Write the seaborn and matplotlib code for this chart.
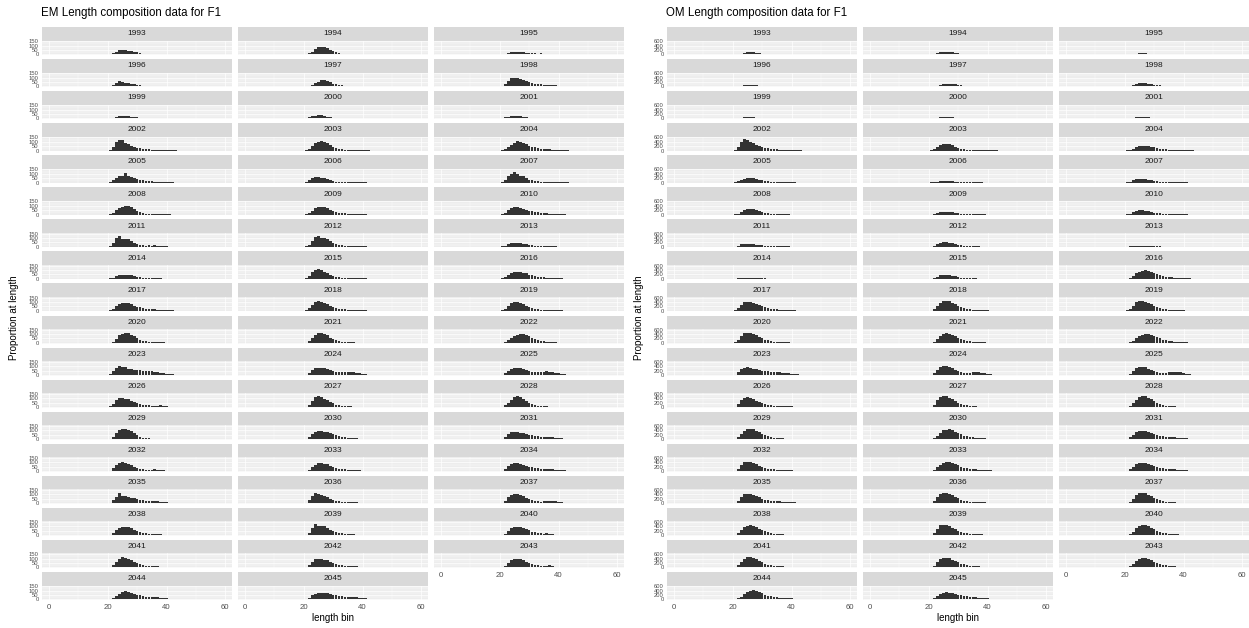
import matplotlib
matplotlib.use("Agg")
import matplotlib.pyplot as plt
import pandas as pd
import seaborn as sns

# ---- data -------------------------------------------------------------
YEARS = list(range(1993, 2046))
LENGTH_BINS = list(range(20, 45))

# Estimation-model (EM) length composition, one row per year, bins 20..44
EM_COUNTS = [
    [0, 4, 12, 30, 45, 50, 48, 42, 38, 30, 22, 14, 8, 5, 3, 6, 2, 1, 4, 1, 0, 2, 1, 0, 0],
    [0, 2, 10, 28, 60, 78, 82, 80, 70, 55, 38, 25, 15, 9, 6, 5, 4, 3, 2, 2, 1, 1, 0, 0, 0],
    [0, 2, 8, 18, 24, 27, 26, 25, 22, 20, 18, 15, 10, 8, 12, 6, 4, 3, 2, 2, 1, 1, 0, 0, 0],
    [0, 5, 18, 40, 58, 50, 42, 35, 30, 24, 18, 12, 8, 6, 5, 4, 6, 3, 2, 2, 1, 1, 0, 0, 0],
    [0, 2, 8, 20, 38, 55, 70, 78, 60, 45, 32, 25, 18, 12, 9, 7, 5, 4, 3, 3, 2, 1, 1, 0, 0],
    [0, 6, 25, 60, 90, 97, 92, 80, 70, 60, 50, 40, 32, 28, 24, 20, 18, 15, 14, 12, 10, 10, 8, 4, 0],
    [0, 2, 8, 18, 26, 31, 30, 28, 22, 16, 12, 8, 6, 5, 4, 3, 3, 2, 2, 1, 1, 0, 0, 0, 0],
    [0, 4, 14, 26, 30, 36, 39, 30, 22, 14, 8, 5, 4, 3, 2, 2, 1, 1, 0, 0, 0, 0, 0, 0, 0],
    [0, 3, 12, 22, 28, 30, 31, 26, 20, 15, 10, 8, 6, 5, 4, 3, 3, 2, 2, 1, 1, 1, 0, 0, 0],
    [0, 8, 40, 95, 125, 118, 90, 70, 55, 42, 32, 25, 18, 14, 12, 10, 9, 8, 8, 7, 6, 5, 4, 3, 0],
    [0, 4, 20, 55, 85, 100, 105, 95, 80, 60, 42, 30, 20, 14, 10, 8, 7, 6, 5, 4, 3, 2, 1, 0, 0],
    [0, 3, 12, 35, 65, 90, 105, 98, 84, 70, 55, 42, 35, 28, 22, 18, 15, 12, 10, 8, 6, 4, 3, 1, 0],
    [0, 5, 25, 55, 70, 75, 109, 72, 60, 48, 42, 35, 28, 22, 18, 15, 12, 10, 8, 6, 4, 2, 1, 0, 0],
    [0, 5, 30, 55, 62, 58, 52, 55, 40, 25, 15, 10, 8, 12, 6, 4, 3, 8, 4, 2, 2, 1, 0, 0, 0],
    [0, 6, 30, 70, 100, 117, 95, 80, 70, 50, 35, 25, 18, 14, 12, 10, 8, 8, 7, 6, 5, 4, 3, 1, 0],
    [0, 4, 20, 50, 78, 92, 101, 95, 82, 62, 42, 28, 18, 12, 9, 7, 6, 5, 4, 3, 2, 2, 1, 0, 0],
    [0, 3, 16, 45, 72, 86, 85, 82, 72, 58, 44, 32, 24, 18, 14, 10, 8, 6, 5, 4, 3, 2, 1, 0, 0],
    [0, 3, 18, 52, 78, 86, 84, 78, 68, 55, 45, 38, 32, 26, 22, 18, 14, 12, 10, 8, 6, 5, 3, 1, 0],
    [0, 8, 45, 95, 117, 90, 88, 85, 60, 45, 32, 22, 16, 12, 14, 10, 16, 8, 6, 4, 3, 2, 1, 0, 0],
    [0, 5, 25, 65, 110, 125, 100, 95, 85, 60, 40, 28, 20, 15, 12, 10, 8, 7, 6, 5, 4, 3, 2, 0, 0],
    [0, 3, 12, 28, 40, 47, 45, 42, 35, 28, 22, 16, 12, 9, 7, 6, 5, 8, 4, 3, 2, 1, 0, 0, 0],
    [0, 3, 14, 30, 40, 47, 44, 40, 46, 32, 22, 15, 10, 8, 6, 14, 5, 4, 3, 2, 1, 1, 0, 0, 0],
    [0, 6, 30, 75, 100, 109, 95, 80, 65, 48, 35, 25, 18, 14, 12, 10, 8, 7, 6, 5, 4, 3, 1, 0, 0],
    [0, 3, 15, 40, 62, 75, 78, 74, 70, 60, 48, 38, 30, 24, 20, 16, 14, 12, 10, 8, 6, 4, 2, 0, 0],
    [0, 5, 22, 50, 80, 94, 90, 85, 72, 60, 48, 38, 30, 24, 20, 18, 16, 14, 12, 10, 8, 6, 4, 2, 0],
    [0, 5, 30, 70, 100, 109, 95, 85, 80, 60, 45, 34, 26, 20, 18, 14, 12, 10, 9, 8, 6, 4, 2, 1, 0],
    [0, 4, 20, 55, 88, 101, 98, 88, 72, 55, 40, 30, 22, 18, 14, 12, 10, 8, 7, 6, 5, 4, 3, 1, 0],
    [0, 3, 15, 45, 85, 105, 113, 108, 95, 75, 55, 38, 26, 18, 14, 12, 10, 8, 6, 5, 4, 3, 2, 0, 0],
    [0, 4, 22, 60, 95, 112, 117, 105, 85, 60, 40, 28, 18, 12, 9, 7, 6, 5, 4, 3, 2, 1, 1, 0, 0],
    [0, 2, 10, 28, 52, 75, 90, 100, 105, 92, 75, 56, 40, 30, 22, 16, 12, 10, 8, 6, 4, 3, 2, 0, 0],
    [0, 8, 40, 80, 97, 90, 85, 70, 62, 58, 55, 52, 50, 48, 45, 42, 38, 32, 26, 20, 14, 10, 6, 3, 0],
    [0, 4, 22, 55, 76, 82, 80, 76, 68, 55, 45, 38, 34, 32, 32, 34, 35, 30, 24, 18, 12, 8, 4, 2, 0],
    [0, 4, 20, 50, 72, 80, 82, 76, 65, 52, 42, 35, 32, 30, 34, 38, 40, 36, 30, 26, 20, 14, 8, 3, 0],
    [0, 6, 32, 75, 100, 105, 96, 86, 72, 55, 40, 30, 24, 20, 18, 16, 14, 16, 18, 12, 8, 5, 3, 0, 0],
    [0, 5, 28, 72, 110, 121, 110, 95, 80, 60, 40, 26, 18, 12, 9, 7, 6, 5, 4, 3, 2, 1, 0, 0, 0],
    [0, 3, 18, 50, 85, 110, 121, 112, 95, 72, 50, 32, 20, 14, 10, 8, 6, 5, 4, 3, 2, 1, 0, 0, 0],
    [0, 5, 28, 68, 100, 112, 113, 105, 88, 65, 42, 26, 16, 10, 7, 5, 4, 3, 2, 2, 1, 1, 0, 0, 0],
    [0, 4, 22, 55, 80, 90, 88, 84, 78, 68, 55, 42, 32, 25, 20, 16, 12, 10, 8, 6, 4, 3, 1, 0, 0],
    [0, 4, 24, 58, 75, 78, 76, 72, 66, 58, 50, 42, 36, 32, 28, 25, 22, 20, 18, 16, 12, 8, 4, 1, 0],
    [0, 6, 32, 75, 98, 101, 94, 82, 68, 52, 38, 28, 22, 18, 16, 18, 20, 16, 12, 8, 5, 3, 1, 0, 0],
    [0, 3, 18, 48, 75, 88, 90, 86, 76, 62, 46, 34, 26, 22, 20, 18, 16, 14, 12, 9, 6, 4, 2, 0, 0],
    [0, 4, 20, 55, 85, 94, 90, 84, 74, 62, 50, 42, 36, 32, 28, 26, 24, 22, 20, 18, 16, 14, 12, 4, 0],
    [0, 6, 35, 65, 113, 80, 78, 72, 64, 55, 46, 38, 32, 28, 26, 30, 28, 24, 18, 12, 8, 6, 4, 2, 0],
    [0, 6, 35, 85, 121, 100, 92, 80, 68, 50, 38, 28, 22, 18, 16, 14, 12, 10, 8, 6, 5, 4, 3, 1, 0],
    [0, 5, 28, 68, 95, 105, 100, 95, 80, 62, 45, 32, 24, 20, 18, 20, 22, 22, 24, 20, 14, 8, 4, 0, 0],
    [0, 3, 20, 55, 85, 97, 95, 90, 80, 65, 50, 38, 28, 22, 18, 16, 18, 14, 10, 7, 5, 3, 1, 0, 0],
    [0, 6, 30, 80, 129, 110, 100, 105, 85, 65, 48, 35, 26, 20, 16, 14, 12, 10, 8, 6, 4, 2, 1, 0, 0],
    [0, 3, 18, 50, 82, 97, 94, 90, 85, 70, 55, 42, 32, 24, 20, 18, 22, 16, 12, 8, 5, 3, 1, 0, 0],
    [0, 5, 25, 65, 98, 113, 105, 92, 78, 62, 46, 34, 26, 20, 16, 14, 16, 12, 8, 5, 3, 2, 1, 0, 0],
    [0, 4, 25, 62, 90, 97, 94, 88, 78, 64, 50, 38, 28, 22, 18, 15, 13, 11, 20, 9, 6, 4, 2, 0, 0],
    [0, 3, 18, 52, 82, 94, 92, 90, 80, 66, 52, 40, 30, 24, 20, 18, 16, 22, 12, 8, 5, 3, 1, 0, 0],
    [0, 3, 14, 40, 66, 82, 90, 86, 78, 66, 55, 45, 38, 32, 28, 26, 24, 22, 20, 16, 12, 8, 4, 1, 0],
    [0, 4, 18, 44, 64, 74, 78, 76, 70, 62, 54, 46, 40, 36, 32, 30, 28, 26, 24, 20, 16, 10, 5, 2, 0],
]

# Operating-model (OM) length composition, one row per year, bins 20..44
OM_COUNTS = [
    [0, 2, 10, 35, 70, 92, 97, 85, 65, 45, 30, 20, 14, 10, 8, 6, 5, 4, 3, 2, 1, 1, 0, 0, 0],
    [0, 3, 15, 45, 85, 108, 113, 105, 88, 68, 50, 36, 26, 20, 16, 12, 10, 8, 6, 5, 4, 3, 2, 1, 0],
    [0, 1, 5, 16, 32, 44, 48, 45, 38, 30, 22, 16, 12, 9, 7, 5, 4, 3, 2, 2, 1, 1, 0, 0, 0],
    [0, 2, 10, 30, 52, 63, 65, 58, 46, 34, 24, 17, 12, 9, 7, 5, 4, 3, 2, 2, 1, 1, 0, 0, 0],
    [0, 2, 10, 32, 70, 108, 128, 130, 115, 90, 65, 45, 30, 20, 14, 10, 8, 6, 5, 4, 3, 2, 1, 0, 0],
    [0, 4, 22, 70, 125, 155, 160, 150, 130, 105, 82, 64, 50, 40, 33, 28, 24, 20, 17, 14, 11, 8, 5, 2, 0],
    [0, 2, 12, 34, 55, 65, 62, 54, 42, 31, 22, 15, 11, 8, 6, 5, 4, 3, 2, 1, 1, 0, 0, 0, 0],
    [0, 1, 8, 26, 48, 62, 65, 60, 48, 35, 24, 16, 11, 8, 6, 4, 3, 2, 2, 1, 1, 0, 0, 0, 0],
    [0, 2, 10, 28, 50, 62, 65, 61, 52, 40, 30, 22, 16, 12, 9, 7, 5, 4, 3, 2, 2, 1, 1, 0, 0],
    [0, 30, 170, 400, 517, 480, 400, 320, 250, 195, 150, 118, 92, 74, 60, 50, 42, 36, 30, 25, 20, 15, 10, 5, 0],
    [0, 10, 50, 140, 240, 295, 307, 280, 230, 175, 125, 88, 62, 45, 34, 27, 22, 18, 15, 12, 9, 6, 3, 1, 0],
    [0, 5, 30, 85, 150, 200, 222, 226, 210, 180, 145, 112, 85, 64, 50, 40, 32, 26, 21, 17, 13, 9, 5, 2, 0],
    [0, 10, 55, 130, 185, 208, 210, 195, 168, 135, 104, 78, 58, 44, 34, 27, 22, 18, 15, 12, 9, 6, 3, 1, 0],
    [0, 4, 20, 48, 70, 80, 78, 70, 58, 45, 34, 25, 18, 13, 10, 8, 6, 5, 4, 3, 2, 1, 1, 0, 0],
    [0, 6, 35, 95, 150, 175, 178, 165, 140, 110, 82, 60, 45, 36, 32, 30, 28, 25, 20, 15, 10, 6, 3, 1, 0],
    [0, 8, 45, 125, 210, 252, 260, 240, 200, 155, 112, 80, 56, 40, 30, 23, 18, 14, 11, 8, 6, 4, 2, 1, 0],
    [0, 4, 22, 62, 105, 126, 130, 122, 105, 85, 65, 49, 37, 28, 22, 18, 15, 12, 10, 8, 6, 4, 2, 1, 0],
    [0, 8, 45, 110, 165, 190, 194, 180, 155, 125, 96, 72, 54, 42, 34, 28, 24, 21, 18, 15, 12, 8, 4, 1, 0],
    [0, 8, 50, 110, 140, 145, 135, 118, 98, 78, 60, 46, 36, 29, 24, 20, 17, 14, 12, 10, 8, 5, 3, 1, 0],
    [0, 6, 40, 105, 165, 192, 194, 178, 150, 115, 84, 60, 42, 30, 22, 17, 13, 10, 8, 6, 4, 3, 1, 0, 0],
    [0, 2, 10, 28, 42, 50, 50, 46, 38, 30, 22, 16, 12, 9, 7, 5, 4, 3, 3, 2, 1, 1, 0, 0, 0],
    [0, 3, 14, 32, 46, 50, 47, 41, 33, 25, 18, 13, 9, 7, 5, 4, 3, 2, 2, 1, 1, 0, 0, 0, 0],
    [0, 6, 38, 100, 155, 176, 178, 162, 135, 104, 76, 54, 38, 28, 21, 16, 13, 10, 8, 6, 4, 3, 1, 0, 0],
    [0, 8, 45, 130, 240, 330, 375, 388, 365, 315, 255, 200, 155, 120, 95, 78, 65, 54, 45, 37, 29, 21, 13, 5, 0],
    [0, 20, 110, 270, 390, 420, 405, 370, 315, 255, 200, 155, 120, 95, 76, 62, 52, 44, 37, 31, 25, 18, 11, 4, 0],
    [0, 12, 75, 210, 350, 430, 453, 430, 375, 300, 225, 165, 120, 88, 66, 51, 41, 34, 28, 23, 18, 13, 8, 3, 0],
    [0, 15, 90, 240, 380, 445, 453, 420, 360, 290, 220, 165, 122, 92, 70, 55, 44, 36, 30, 24, 18, 13, 8, 3, 0],
    [0, 25, 130, 310, 440, 470, 455, 410, 345, 272, 205, 150, 110, 80, 60, 46, 36, 29, 23, 18, 13, 9, 5, 2, 0],
    [0, 10, 60, 180, 320, 410, 436, 420, 370, 300, 228, 168, 122, 88, 65, 49, 38, 30, 24, 19, 14, 10, 6, 2, 0],
    [0, 5, 30, 100, 200, 300, 370, 400, 404, 375, 320, 258, 200, 152, 115, 88, 68, 53, 42, 33, 25, 18, 11, 4, 0],
    [0, 20, 120, 260, 330, 340, 320, 290, 255, 222, 195, 175, 160, 150, 140, 130, 118, 104, 88, 72, 55, 38, 22, 8, 0],
    [0, 12, 80, 220, 340, 395, 404, 370, 310, 240, 180, 135, 110, 100, 102, 112, 122, 122, 110, 88, 62, 38, 18, 6, 0],
    [0, 10, 65, 185, 300, 360, 372, 345, 290, 225, 168, 128, 105, 98, 104, 120, 140, 150, 144, 122, 90, 56, 26, 8, 0],
    [0, 20, 120, 300, 420, 436, 410, 360, 295, 228, 170, 125, 92, 70, 56, 48, 44, 42, 40, 36, 28, 18, 10, 3, 0],
    [0, 18, 110, 300, 450, 500, 485, 430, 355, 275, 202, 145, 102, 72, 52, 38, 29, 22, 17, 13, 9, 6, 3, 1, 0],
    [0, 8, 55, 170, 320, 440, 500, 490, 430, 345, 260, 188, 132, 92, 65, 47, 35, 27, 21, 16, 12, 8, 4, 1, 0],
    [0, 12, 80, 230, 380, 455, 470, 445, 385, 310, 235, 170, 122, 87, 63, 47, 36, 28, 22, 17, 12, 8, 4, 1, 0],
    [0, 8, 50, 160, 290, 390, 430, 436, 400, 340, 270, 208, 158, 120, 92, 72, 57, 46, 37, 29, 22, 15, 8, 3, 0],
    [0, 12, 75, 200, 310, 362, 372, 355, 320, 275, 230, 190, 158, 134, 116, 102, 90, 80, 70, 60, 48, 35, 20, 6, 0],
    [0, 20, 115, 280, 395, 420, 400, 360, 305, 245, 190, 145, 112, 90, 76, 68, 64, 60, 54, 46, 36, 24, 12, 4, 0],
    [0, 8, 55, 170, 300, 390, 420, 415, 380, 325, 262, 205, 160, 126, 102, 86, 76, 68, 60, 52, 42, 30, 16, 5, 0],
    [0, 12, 75, 205, 320, 365, 372, 355, 320, 275, 228, 188, 156, 132, 114, 100, 88, 78, 68, 57, 45, 32, 18, 6, 0],
    [0, 18, 110, 280, 405, 436, 420, 380, 325, 265, 210, 165, 132, 110, 95, 85, 78, 72, 65, 56, 45, 32, 18, 6, 0],
    [0, 15, 95, 260, 410, 470, 460, 415, 350, 280, 215, 162, 122, 94, 75, 62, 53, 46, 40, 34, 27, 19, 11, 4, 0],
    [0, 10, 70, 210, 360, 450, 470, 445, 390, 318, 245, 182, 134, 98, 72, 54, 42, 33, 26, 20, 15, 10, 5, 2, 0],
    [0, 12, 80, 225, 370, 440, 453, 430, 375, 305, 235, 175, 130, 97, 74, 58, 47, 38, 31, 25, 19, 13, 7, 2, 0],
    [0, 20, 120, 300, 450, 485, 465, 415, 350, 280, 215, 162, 122, 93, 73, 59, 49, 41, 34, 28, 21, 14, 8, 3, 0],
    [0, 8, 55, 170, 310, 415, 453, 445, 400, 335, 265, 202, 152, 114, 87, 68, 54, 44, 36, 29, 22, 15, 8, 3, 0],
    [0, 15, 90, 250, 400, 465, 470, 435, 370, 295, 225, 168, 125, 94, 72, 57, 46, 38, 31, 25, 19, 13, 7, 2, 0],
    [0, 12, 80, 225, 360, 425, 436, 410, 355, 290, 225, 170, 128, 97, 75, 59, 48, 40, 33, 27, 20, 14, 8, 3, 0],
    [0, 8, 55, 170, 300, 400, 436, 425, 380, 315, 248, 190, 143, 108, 83, 65, 52, 43, 35, 28, 21, 15, 8, 3, 0],
    [0, 6, 40, 130, 245, 345, 395, 404, 375, 325, 268, 215, 172, 140, 116, 98, 84, 72, 62, 52, 42, 30, 17, 5, 0],
    [0, 10, 65, 170, 265, 312, 323, 310, 282, 248, 212, 180, 154, 134, 118, 105, 94, 84, 74, 63, 51, 37, 21, 7, 0],
]

X_TICKS = [0, 20, 40, 60]
X_MINOR = [10, 30, 50]
EM_YTICKS = [0, 50, 100, 150]
OM_YTICKS = [0, 200, 400, 600]
TITLES = ["EM Length composition data for F1", "OM Length composition data for F1"]
X_LABEL = "length bin"
Y_LABEL = "Proportion at length"

# ---- styling / layout ----------------------------------------------------
sns.set_theme(style="darkgrid")
plt.rcParams["font.family"] = ["Liberation Sans", "DejaVu Sans"]

W, H = 1249, 628
fig = plt.figure(figsize=(W / 100, H / 100), dpi=100)
fig.patch.set_facecolor("white")

STRIP_BG = "#D9D9D9"
PANEL_BG = "#EDEDED"
BAR_COLOR = "#333333"
TEXT_DARK = "#1A1A1A"
TICK_TEXT = "#4D4D4D"

COL_X = [42, 238, 434]
PANEL_W = 190
ROW_Y0 = 27.0
ROW_PITCH = 32.06
STRIP_H = 13.5
PANEL_H = 14.5
NCOL = 3
BLOCK_SHIFT = 625


def px_box(x, y, w, h):
    """Convert a top-left pixel box into figure-fraction coordinates."""
    return [x / W, 1 - (y + h) / H, w / W, h / H]


def y_limits(ticks):
    return (-ticks[-1] * 0.05, ticks[-1] * 1.05)


blocks = [
    (EM_COUNTS, EM_YTICKS, TITLES[0]),
    (OM_COUNTS, OM_YTICKS, TITLES[1]),
]

n_years = len(YEARS)
for b, (counts, yticks, title) in enumerate(blocks):
    ox = BLOCK_SHIFT * b
    yminor = [(yticks[i] + yticks[i + 1]) / 2 for i in range(len(yticks) - 1)]
    for k, year in enumerate(YEARS):
        r, c = divmod(k, NCOL)
        x0 = ox + COL_X[c]
        top = ROW_Y0 + r * ROW_PITCH

        # facet strip
        sax = fig.add_axes(px_box(x0, top, PANEL_W, STRIP_H))
        sax.set_facecolor(STRIP_BG)
        sax.set_xticks([])
        sax.set_yticks([])
        sax.grid(False)
        for sp in sax.spines.values():
            sp.set_visible(False)
        sax.text(0.5, 0.5, str(year), ha="center", va="center",
                 fontsize=6.0, color=TEXT_DARK, transform=sax.transAxes)

        # panel with bars
        ax = fig.add_axes(px_box(x0, top + STRIP_H, PANEL_W, PANEL_H))
        df = pd.DataFrame({"length": LENGTH_BINS, "n": counts[k]})
        sns.histplot(data=df, x="length", weights="n", discrete=True,
                     shrink=0.9, color=BAR_COLOR, alpha=1, linewidth=0,
                     ax=ax)
        ax.set_facecolor(PANEL_BG)
        ax.set_xlim(-2.4, 62.3)
        ax.set_ylim(*y_limits(yticks))
        ax.set_xticks(X_TICKS)
        ax.set_xticks(X_MINOR, minor=True)
        ax.set_yticks(yticks)
        ax.set_yticks(yminor, minor=True)
        ax.set_axisbelow(True)
        ax.grid(which="major", color="white", linewidth=0.5)
        ax.grid(which="minor", color="white", linewidth=0.25)
        for sp in ax.spines.values():
            sp.set_visible(False)
        ax.set_xlabel("")
        ax.set_ylabel("")
        ax.tick_params(which="minor", length=0)

        bottom_of_column = k >= n_years - NCOL
        if bottom_of_column:
            ax.set_xticklabels([str(t) for t in X_TICKS])
            ax.tick_params(axis="x", which="major", length=2, width=0.5,
                           color="#333333", labelsize=5.6,
                           labelcolor=TICK_TEXT, pad=1.2)
        else:
            ax.tick_params(axis="x", which="major", length=0,
                           labelbottom=False)

        if c == 0:
            ax.set_yticklabels([str(t) for t in yticks])
            ax.tick_params(axis="y", which="major", length=1.5, width=0.5,
                           color="#333333", labelsize=4.2,
                           labelcolor=TICK_TEXT, pad=0.8)
        else:
            ax.tick_params(axis="y", which="major", length=0,
                           labelleft=False)

    # block title and axis titles
    fig.text((41 + ox) / W, 1 - 13 / H, title, ha="left", va="center",
             fontsize=8.3, color="black")
    fig.text((14 + ox) / W, 1 - 318 / H, Y_LABEL, rotation=90,
             ha="center", va="center", fontsize=7, color="black")
    fig.text((333 + ox) / W, 1 - 618 / H, X_LABEL, ha="center",
             va="center", fontsize=7, color="black")

fig.savefig("out.png", dpi=100, facecolor="white")
